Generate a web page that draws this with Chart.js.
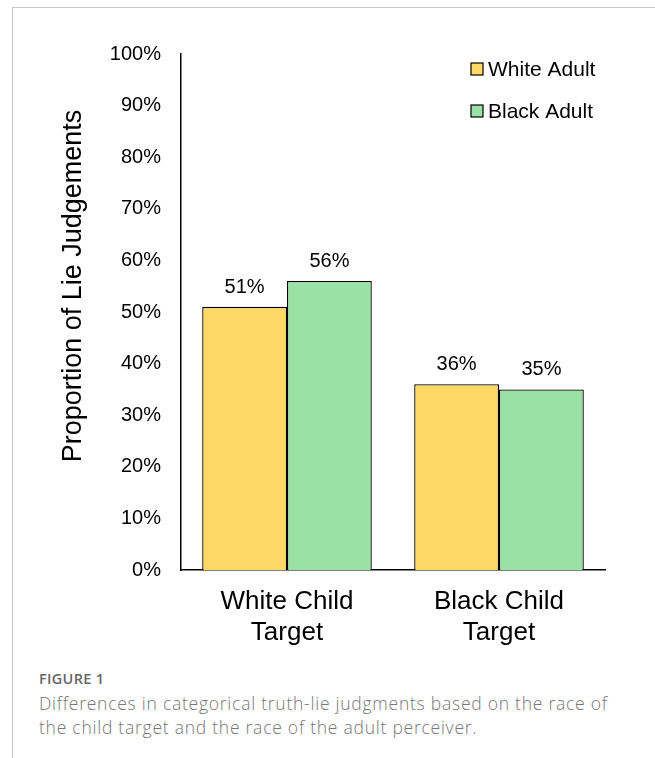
<!DOCTYPE html>
<html>
<head>
<meta charset="utf-8">
<script src="https://cdn.jsdelivr.net/npm/chart.js@4/dist/chart.umd.min.js"></script>
<style>
  html, body { margin: 0; padding: 0; background: #fff; }
  body { width: 655px; height: 758px; position: relative; overflow: hidden; }
  .frame { position: absolute; left: 12px; top: 7px; right: -2px; bottom: -2px;
           border-left: 1px solid #c8c8c8; border-top: 1px solid #c8c8c8; }
  #wrap { position: absolute; left: 0; top: 0; width: 655px; height: 660px; }
  .caption { position: absolute; left: 39px; top: 669px; width: 575px;
             font-family: "Open Sans", sans-serif; color: #777; }
  .caption .fig { font-size: 14.5px; font-weight: 600; color: #666; letter-spacing: 0.3px; line-height: 20px; }
  .caption .txt { font-size: 17.5px; font-weight: 300; line-height: 24px; margin-top: 2px; letter-spacing: 0.75px; }
</style>
</head>
<body>
<div class="frame"></div>
<div id="wrap"><canvas id="c" width="655" height="660"></canvas></div>
<div class="caption">
  <div class="fig">FIGURE 1</div>
  <div class="txt">Differences in categorical truth-lie judgments based on the race of the child target and the race of the adult perceiver.</div>
</div>
<script>
// Proportion of "lie" judgements by child target race and adult perceiver race
const categories = [["White Child", "Target"], ["Black Child", "Target"]];
const seriesNames = ["White Adult", "Black Adult"];
const whiteAdult = [51, 36];
const blackAdult = [56, 35];
const yTicks = [0, 10, 20, 30, 40, 50, 60, 70, 80, 90, 100];
const yTitle = "Proportion of Lie Judgements";

const FONT = "'Liberation Sans', Arial, sans-serif";
const COLORS = ["#FFD966", "#9AE1A5"];

// Value labels above each bar
const valueLabels = {
  id: "valueLabels",
  afterDatasetsDraw(chart) {
    const ctx = chart.ctx;
    ctx.save();
    ctx.font = "20px " + FONT;
    ctx.fillStyle = "#000";
    ctx.textAlign = "center";
    ctx.textBaseline = "alphabetic";
    chart.data.datasets.forEach((ds, di) => {
      const meta = chart.getDatasetMeta(di);
      meta.data.forEach((bar, i) => {
        ctx.fillText(ds.data[i] + "%", bar.x, bar.y - 14);
      });
    });
    ctx.restore();
  }
};

// Stacked legend in the upper right of the plot
const boxLegend = {
  id: "boxLegend",
  afterDraw(chart) {
    const ctx = chart.ctx;
    const x0 = 471, y0 = 69, gap = 42, box = 12;
    ctx.save();
    ctx.font = "21px " + FONT;
    ctx.textBaseline = "middle";
    ctx.textAlign = "left";
    chart.data.datasets.forEach((ds, i) => {
      const y = y0 + i * gap;
      ctx.fillStyle = ds.backgroundColor;
      ctx.fillRect(x0, y - box / 2, box, box);
      ctx.strokeStyle = "#000";
      ctx.lineWidth = 1.2;
      ctx.strokeRect(x0, y - box / 2, box, box);
      ctx.fillStyle = "#000";
      ctx.fillText(ds.label, x0 + box + 5, y + 1);
    });
    ctx.restore();
  }
};

// Rotated y-axis title, set a little above the middle of the axis
const axisTitle = {
  id: "axisTitle",
  afterDraw(chart) {
    const ctx = chart.ctx;
    ctx.save();
    ctx.translate(74, 286);
    ctx.rotate(-Math.PI / 2);
    ctx.font = "27px " + FONT;
    ctx.fillStyle = "#000";
    ctx.textAlign = "center";
    ctx.textBaseline = "middle";
    ctx.fillText(yTitle, 0, 0);
    ctx.restore();
  }
};

new Chart(document.getElementById("c"), {
  type: "bar",
  data: {
    labels: categories,
    datasets: [
      { label: seriesNames[0], data: whiteAdult, backgroundColor: COLORS[0] },
      { label: seriesNames[1], data: blackAdult, backgroundColor: COLORS[1] }
    ]
  },
  options: {
    responsive: false,
    animation: false,
    layout: { padding: { top: 54, right: 50, bottom: 0, left: 0 } },
    datasets: {
      bar: {
        categoryPercentage: 0.8,
        barPercentage: 1.0,
        borderColor: "#000",
        borderWidth: 1.3,
        borderSkipped: "bottom"
      }
    },
    plugins: {
      legend: { display: false },
      tooltip: { enabled: false }
    },
    scales: {
      x: {
        grid: { display: false, drawTicks: false },
        border: { display: true, color: "#000", width: 1.5 },
        ticks: { color: "#000", font: { family: FONT, size: 26 }, padding: 16, maxRotation: 0 },
        afterFit(scale) { scale.height = 90; }
      },
      y: {
        min: 0,
        max: 100,
        grid: { display: false, drawTicks: false },
        border: { display: true, color: "#000", width: 1.5 },
        afterBuildTicks(scale) { scale.ticks = yTicks.map(v => ({ value: v })); },
        ticks: {
          color: "#000",
          font: { family: FONT, size: 20 },
          padding: 20,
          callback: v => v + "%"
        },
        afterFit(scale) { scale.width = 181; }
      }
    }
  },
  plugins: [valueLabels, boxLegend, axisTitle]
});
</script>
</body>
</html>
